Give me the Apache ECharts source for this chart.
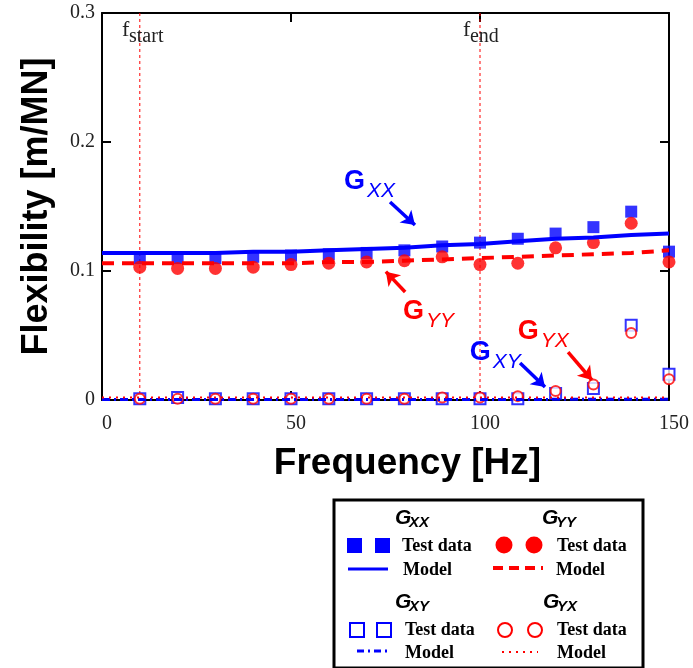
<!DOCTYPE html>
<html><head><meta charset="utf-8">
<script src="https://cdn.jsdelivr.net/npm/echarts@6/dist/echarts.min.js"></script>
<style>html,body{margin:0;padding:0;background:#fff}#c{width:693px;height:668px}</style>
</head><body><div id="c"></div>
<script>
// ---- data ----
const freqTest = [10,20,30,40,50,60,70,80,90,100,110,120,130,140,150];
const gxxTest  = [0.110,0.110,0.110,0.111,0.112,0.113,0.114,0.116,0.119,0.122,0.125,0.129,0.134,0.146,0.115];
const gyyTest  = [0.103,0.102,0.102,0.103,0.105,0.106,0.107,0.108,0.111,0.105,0.106,0.118,0.122,0.137,0.107];
const gxyTest  = [0.001,0.002,0.001,0.001,0.001,0.001,0.001,0.001,0.001,0.001,0.001,0.005,0.009,0.058,0.020];
const gyxTest  = [0.001,0.001,0.001,0.001,0.001,0.001,0.001,0.001,0.002,0.002,0.003,0.007,0.012,0.052,0.016];
const freqModel = [0,10,20,30,40,50,60,70,80,90,100,110,120,130,140,150];
const gxxModel = [0.114,0.114,0.114,0.114,0.115,0.115,0.116,0.117,0.118,0.120,0.121,0.123,0.125,0.126,0.128,0.129];
const gyyModel = [0.106,0.106,0.106,0.106,0.106,0.106,0.107,0.107,0.108,0.109,0.110,0.111,0.112,0.113,0.114,0.116];
const gxyModel = [0.0004,0.0004,0.0004,0.0004,0.0004,0.0004,0.0004,0.0004,0.0004,0.0004,0.0004,0.0004,0.0005,0.0005,0.0005,0.0005];
const gyxModel = [0.002,0.002,0.002,0.002,0.002,0.002,0.002,0.002,0.002,0.002,0.002,0.002,0.002,0.002,0.002,0.002];
const fStart = 10, fEnd = 100;
const xTicks = [0,50,100,150];
const yTicks = [0,0.1,0.2,0.3];

const BLUE = '#0000ff', RED = '#ff0000';
const pair = (xs, ys) => xs.map((x,i)=>[x, ys[i]]);
const serif = '"Liberation Serif", "DejaVu Serif", serif';
const sans = '"Liberation Sans", Arial, sans-serif';

const chart = echarts.init(document.getElementById('c'), null, {renderer:'canvas'});

const axisCommon = {
  axisLine:{show:true, onZero:false, lineStyle:{color:'#000', width:2}},
  axisTick:{show:true, inside:true, length:9, lineStyle:{color:'#000', width:2}},
  splitLine:{show:false}
};

function arrow(color, from, to){
  return {silent:true, symbol:['none','arrow'], symbolSize:13,
    lineStyle:{color, width:3.5, type:'solid'}, label:{show:false},
    emphasis:{disabled:true},
    data:[[{coord:from},{coord:to}]]};
}

const option = {
  animation:false,
  backgroundColor:'#fff',
  grid:{left:102, right:24, top:13, bottom:268, containLabel:false},
  xAxis:[
    Object.assign({type:'value', min:xTicks[0], max:xTicks[xTicks.length-1], interval:50, position:'bottom',
      name:'Frequency [Hz]', nameLocation:'middle', nameGap:45,
      nameTextStyle:{fontFamily:sans, fontWeight:'bold', fontSize:37, color:'#000', padding:[0,0,0,44]},
      axisLabel:{fontFamily:serif, fontSize:20, color:'#222', margin:14, padding:[0,0,0,10]}}, axisCommon),
    Object.assign({type:'value', min:0, max:150, interval:50, position:'top', axisLabel:{show:false}}, axisCommon)
  ],
  yAxis:[
    Object.assign({type:'value', min:yTicks[0], max:yTicks[yTicks.length-1], interval:0.1, position:'left',
      name:'Flexibility [m/MN]', nameLocation:'middle', nameGap:47, nameRotate:90,
      nameTextStyle:{fontFamily:sans, fontWeight:'bold', fontSize:36, color:'#000'},
      axisLabel:{fontFamily:serif, fontSize:20, color:'#222', margin:7,
        formatter:v=> v===0 ? '0' : v.toFixed(1)}}, axisCommon),
    Object.assign({type:'value', min:0, max:0.3, interval:0.1, position:'right', axisLabel:{show:false}}, axisCommon)
  ],
  series:[
    {type:'line', name:'fstart', data:[[fStart,0],[fStart,0.3]], showSymbol:false, silent:true,
      lineStyle:{color:RED, width:1, type:[3,3]}, z:1},
    {type:'line', name:'fend', data:[[fEnd,0],[fEnd,0.3]], showSymbol:false, silent:true,
      lineStyle:{color:RED, width:1, type:[3,3]}, z:1},
    {type:'scatter', name:'GXX test', data:pair(freqTest,gxxTest), symbol:'rect', symbolSize:12,
      itemStyle:{color:BLUE}, z:3,
      markLine:arrow(BLUE,[76.2,0.1535],[82.8,0.1357])},
    {type:'scatter', name:'GYY test', data:pair(freqTest,gyyTest), symbol:'circle', symbolSize:13,
      itemStyle:{color:RED}, z:3,
      markLine:arrow(RED,[80.2,0.0837],[75.1,0.0995])},
    {type:'scatter', name:'GXY test', data:pair(freqTest,gxyTest), symbol:'emptyRect', symbolSize:11,
      itemStyle:{color:BLUE, borderColor:BLUE, borderWidth:1.5}, z:3,
      markLine:arrow(BLUE,[110.6,0.0287],[117.2,0.0101])},
    {type:'scatter', name:'GYX test', data:pair(freqTest,gyxTest), symbol:'emptyCircle', symbolSize:10,
      itemStyle:{color:RED, borderColor:RED, borderWidth:1.5}, z:4,
      markLine:arrow(RED,[123.3,0.0372],[129.6,0.0155])},
    {type:'line', name:'GXX model', data:pair(freqModel,gxxModel), showSymbol:false,
      lineStyle:{color:BLUE, width:4}, z:5},
    {type:'line', name:'GYY model', data:pair(freqModel,gyyModel), showSymbol:false,
      lineStyle:{color:RED, width:4, type:[12,8]}, z:5},
    {type:'line', name:'GXY model', data:pair(freqModel,gxyModel), showSymbol:false,
      lineStyle:{color:BLUE, width:3, type:[8,4,2,4]}, z:5},
    {type:'line', name:'GYX model', data:pair(freqModel,gyxModel), showSymbol:false,
      lineStyle:{color:RED, width:2, type:[2,5]}, z:5}
  ]
};
chart.setOption(option);

// ---- annotations (positioned through the chart's scales) ----
const g = [];
function annot(anchor, sub, color){
  const p = chart.convertToPixel({gridIndex:0}, anchor);
  g.push({type:'text', x:p[0], y:p[1], z:10, style:{text:'G', fill:color, font:`bold 27px ${sans}`, verticalAlign:'middle', align:'left'}});
  g.push({type:'text', x:p[0]+23, y:p[1]+9, z:10, style:{text:sub, fill:color, font:`italic 21px ${sans}`, verticalAlign:'middle', align:'left'}});
}
annot([64.0,0.1690], 'XX', BLUE);
annot([79.6,0.0682], 'YY', RED);
annot([97.3,0.0364], 'XY', BLUE);
annot([110.0,0.0527], 'YX', RED);

function fLabel(anchor, sub){
  const p = chart.convertToPixel({gridIndex:0}, anchor);
  g.push({type:'text', x:p[0], y:p[1], z:10, style:{text:'f', fill:'#222', font:`22px ${serif}`, verticalAlign:'middle', align:'left'}});
  g.push({type:'text', x:p[0]+7, y:p[1]+7, z:10, style:{text:sub, fill:'#222', font:`20px ${serif}`, verticalAlign:'middle', align:'left'}});
}
fLabel([5.3,0.2868], 'start');
fLabel([95.5,0.2868], 'end');

// ---- legend box ----
const L = [];
L.push({type:'rect', shape:{x:334, y:500, width:309, height:168}, style:{fill:'#fff', stroke:'#000', lineWidth:3}, z:20});
function hdr(x, y, sub){
  L.push({type:'text', x:x, y:y, z:21, style:{text:'G', fill:'#000', font:`bold italic 21px ${sans}`, verticalAlign:'middle'}});
  L.push({type:'text', x:x+14, y:y+5, z:21, style:{text:sub, fill:'#000', font:`bold italic 15px ${sans}`, verticalAlign:'middle'}});
}
function txt(x, y, t){
  L.push({type:'text', x:x, y:y, z:21, style:{text:t, fill:'#000', font:`bold 18px ${serif}`, verticalAlign:'middle'}});
}
hdr(395,518,'XX'); hdr(542,518,'YY'); hdr(395,602,'XY'); hdr(543,602,'YX');
// GXX
L.push({type:'rect', shape:{x:347,y:538,width:15,height:15}, style:{fill:BLUE}, z:21});
L.push({type:'rect', shape:{x:375,y:538,width:15,height:15}, style:{fill:BLUE}, z:21});
L.push({type:'line', shape:{x1:348,y1:569,x2:388,y2:569}, style:{stroke:BLUE, lineWidth:3}, z:21});
txt(402,546,'Test data'); txt(403,570,'Model');
// GYY
L.push({type:'circle', shape:{cx:504,cy:545,r:8.5}, style:{fill:RED}, z:21});
L.push({type:'circle', shape:{cx:534,cy:545,r:8.5}, style:{fill:RED}, z:21});
L.push({type:'line', shape:{x1:493,y1:568,x2:543,y2:568}, style:{stroke:RED, lineWidth:4, lineDash:[10,6]}, z:21});
txt(557,546,'Test data'); txt(556,570,'Model');
// GXY
L.push({type:'rect', shape:{x:350,y:623,width:14,height:14}, style:{fill:'none', stroke:BLUE, lineWidth:2}, z:21});
L.push({type:'rect', shape:{x:377,y:623,width:14,height:14}, style:{fill:'none', stroke:BLUE, lineWidth:2}, z:21});
L.push({type:'line', shape:{x1:357,y1:651,x2:390,y2:651}, style:{stroke:BLUE, lineWidth:3, lineDash:[7,4,2,4]}, z:21});
txt(405,630,'Test data'); txt(405,653,'Model');
// GYX
L.push({type:'circle', shape:{cx:505,cy:630,r:7}, style:{fill:'none', stroke:RED, lineWidth:2}, z:21});
L.push({type:'circle', shape:{cx:535,cy:630,r:7}, style:{fill:'none', stroke:RED, lineWidth:2}, z:21});
L.push({type:'line', shape:{x1:502,y1:652,x2:538,y2:652}, style:{stroke:RED, lineWidth:2, lineDash:[2,5]}, z:21});
txt(557,630,'Test data'); txt(557,653,'Model');

chart.setOption({graphic:g.concat(L)});
</script>
</body></html>
